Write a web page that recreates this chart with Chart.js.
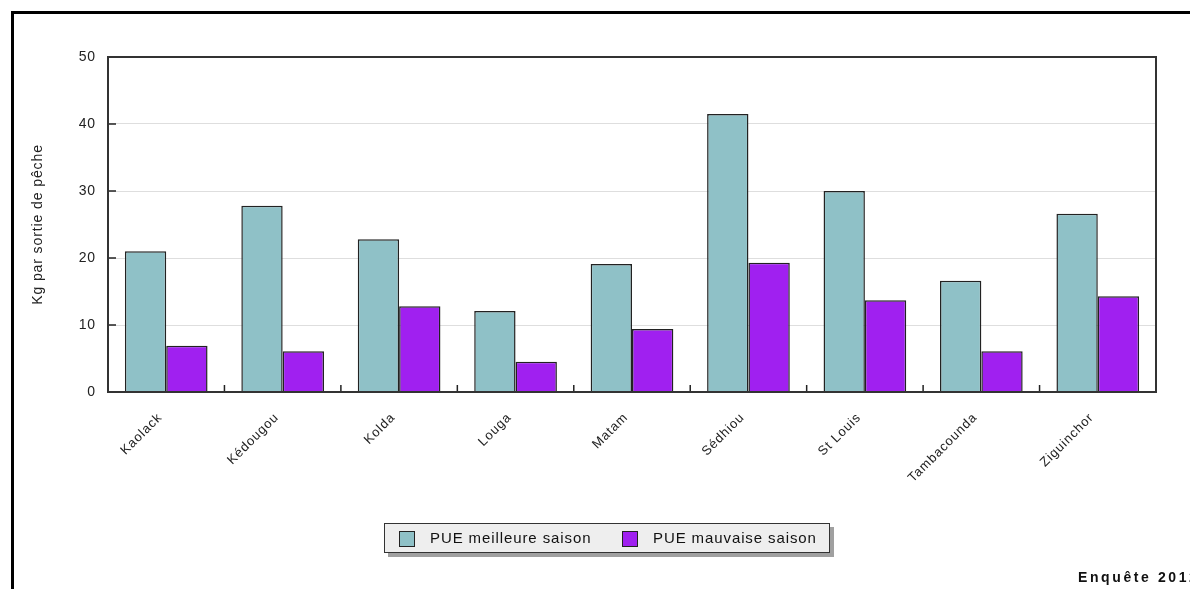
<!DOCTYPE html>
<html>
<head>
<meta charset="utf-8">
<script src="https://cdn.jsdelivr.net/npm/chart.js@4"></script>
<style>
  body { margin: 0; background: #fff; }
  #wrap { position: relative; width: 1190px; height: 589px; overflow: hidden; font-family: "Liberation Sans", Arial, sans-serif; }
  #frame { position: absolute; left: 11px; top: 11px; width: 1300px; height: 700px; border-top: 3px solid #000; border-left: 3px solid #000; }
  #legend { position: absolute; left: 384px; top: 523px; width: 444px; height: 28px; background: #eeeeee; border: 1px solid #333; box-shadow: 4px 4px 0 #a0a0a0; font-size: 15px; letter-spacing: 0.9px; color: #111; }
  .item { position: absolute; top: 5px; }
  .sw { position: absolute; top: 2px; width: 14px; height: 14px; border: 1px solid #222; }
  .lbl { position: absolute; top: 0; white-space: nowrap; }
  #note { position: absolute; left: 1078px; top: 569px; font-weight: bold; font-size: 14px; letter-spacing: 2.6px; white-space: nowrap; color: #111; }
  canvas { position: absolute; left: 0; top: 0; }
</style>
</head>
<body>
<div id="wrap">
  <canvas id="myChart" width="1190" height="589"></canvas>
  <div id="frame"></div>
  <div id="legend">
    <div class="item" style="left:14px"><div class="sw" style="left:0;background:#8fc1c7"></div><div class="lbl" style="left:31px">PUE meilleure saison</div></div>
    <div class="item" style="left:237px"><div class="sw" style="left:0;background:#a020f0"></div><div class="lbl" style="left:31px">PUE mauvaise saison</div></div>
  </div>
  <div id="note">Enquête 2012</div>
</div>
<script>
const labels = ["Kaolack", "Kédougou", "Kolda", "Louga", "Matam", "Sédhiou", "St Louis", "Tambacounda", "Ziguinchor"];
const bestSeason = [21.0, 27.8, 22.8, 12.1, 19.1, 41.5, 30.0, 16.6, 26.6];
const worstSeason = [6.9, 6.1, 12.8, 4.5, 9.4, 19.3, 13.7, 6.1, 14.3];

// wider text spacing like the original export
const spacing = {
  id: "spacing",
  beforeInit(chart) {
    chart.ctx.letterSpacing = "0.9px";
  },
  beforeDraw(chart) {
    chart.ctx.letterSpacing = "0.9px";
  },
};

// inward tick marks + plot frame
const frameTicks = {
  id: "frameTicks",
  afterDatasetsDraw(chart) {
    const c = chart.ctx;
    const a = chart.chartArea;
    const x = chart.scales.x;
    const y = chart.scales.y;
    c.save();
    c.strokeStyle = "#222";
    c.lineWidth = 1.5;
    y.ticks.forEach((t, i) => {
      const py = y.getPixelForTick(i);
      c.beginPath();
      c.moveTo(a.left, py);
      c.lineTo(a.left + 8, py);
      c.stroke();
    });
    for (let i = 1; i < labels.length; i++) {
      const px = (x.getPixelForTick(i - 1) + x.getPixelForTick(i)) / 2;
      c.beginPath();
      c.moveTo(px, a.bottom);
      c.lineTo(px, a.bottom - 7);
      c.stroke();
    }
    c.strokeStyle = "#333";
    c.lineWidth = 2;
    c.strokeRect(a.left, a.top, a.right - a.left, a.bottom - a.top);
    c.restore();
  },
};

const ctx = document.getElementById("myChart");
new Chart(ctx, {
  type: "bar",
  data: {
    labels: labels,
    datasets: [
      {
        label: "PUE meilleure saison",
        data: bestSeason,
        backgroundColor: "#8fc1c7",
        borderColor: "#222",
        borderWidth: 1.5,
      },
      {
        label: "PUE mauvaise saison",
        data: worstSeason,
        backgroundColor: "#a020f0",
        borderColor: "#222",
        borderWidth: 1.5,
      },
    ],
  },
  options: {
    responsive: false,
    animation: false,
    layout: {
      padding: { left: 0, top: 57, right: 34, bottom: 0 },
    },
    plugins: {
      legend: { display: false },
      tooltip: { enabled: false },
    },
    datasets: {
      bar: {
        categoryPercentage: 0.71,
        barPercentage: 1.0,
      },
    },
    scales: {
      x: {
        afterFit(scale) {
          scale.height = 197;
        },
        grid: { display: false, drawTicks: false },
        border: { display: false },
        ticks: {
          color: "#222",
          padding: 18,
          labelOffset: -6,
          autoSkip: false,
          minRotation: 45,
          maxRotation: 45,
          font: { family: "'Liberation Sans', Arial, sans-serif", size: 13 },
        },
      },
      y: {
        min: 0,
        max: 50,
        afterFit(scale) {
          scale.width = 108;
        },
        grid: { color: "#dedede", lineWidth: 1, drawTicks: false },
        border: { display: false },
        ticks: {
          stepSize: 10,
          color: "#222",
          padding: 12,
          font: { family: "'Liberation Sans', Arial, sans-serif", size: 14 },
        },
        title: {
          display: true,
          text: "Kg par sortie de pêche",
          color: "#222",
          padding: { top: 30, bottom: 0 },
          font: { family: "'Liberation Sans', Arial, sans-serif", size: 14 },
        },
      },
    },
  },
  plugins: [spacing, frameTicks],
});
</script>
</body>
</html>
